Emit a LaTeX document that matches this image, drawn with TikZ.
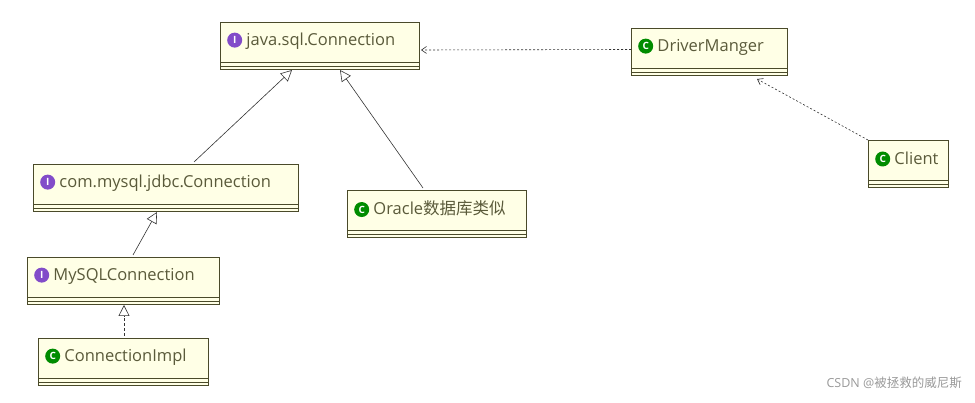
\documentclass[tikz,border=0pt]{standalone}
\usepackage{fontspec}
\setmainfont{Open Sans}
\newfontfamily\cjk{Noto Sans CJK SC}
\usetikzlibrary{calc,arrows.meta}
\definecolor{boxfill}{HTML}{FFFFE6}
\definecolor{boxdraw}{HTML}{4A4A2A}
\definecolor{txt}{HTML}{5A5A3A}
\newcommand\icI{\tikz[baseline=-0.6ex]\node[circle,fill=violet!60!blue!70,inner sep=0pt,minimum size=15pt,text=white,font=\fontsize{10}{10}\selectfont\bfseries]{I};}
\newcommand\icC{\tikz[baseline=-0.6ex]\node[circle,fill=green!55!black,inner sep=0pt,minimum size=15pt,text=white,font=\fontsize{10}{10}\selectfont\bfseries]{C};}
\tikzset{
  cls/.style={draw=boxdraw,fill=boxfill,line width=1pt,anchor=north west,minimum height=47pt,inner sep=0pt},
  nm/.style={anchor=west,xshift=7pt,yshift=-19pt,text=txt,font=\fontsize{16.5}{18}\selectfont,inner sep=0pt},
  gen/.style={-{Triangle[open,length=11pt,width=11pt]},line width=0.6pt,draw=black!80},
  dep/.style={-{Straight Barb[length=5pt,width=7pt]},dashed,dash pattern=on 2pt off 2pt,line width=0.6pt,draw=black!80}
}
\newcommand\comp[1]{\draw[boxdraw,line width=0.8pt] ($(#1.south west)+(0,-8)$)--($(#1.south east)+(0,-8)$) ($(#1.south west)+(0,-4)$)--($(#1.south east)+(0,-4)$);}
\begin{document}
\begin{tikzpicture}[x=1pt,y=-1pt]
\useasboundingbox (0,0) rectangle (975,403);
\node[cls,minimum width=199pt,label={[nm]north west:\icI\ java.sql.Connection}] (jc) at (220,22) {};
\node[cls,minimum width=156pt,label={[nm]north west:\icC\ DriverManger}] (dm) at (631,28) {};
\node[cls,minimum width=80pt,label={[nm]north west:\icC\ Client}] (cl) at (868,140) {};
\node[cls,minimum width=265pt,label={[nm]north west:\icI\ com.mysql.jdbc.Connection}] (mj) at (33,164) {};
\node[cls,minimum width=179pt,label={[nm]north west:\icC\ Oracle{\cjk 数据库类似}}] (or) at (347,190) {};
\node[cls,minimum width=192pt,label={[nm]north west:\icI\ MySQLConnection}] (ms) at (27,257) {};
\node[cls,minimum width=170pt,label={[nm]north west:\icC\ ConnectionImpl}] (ci) at (38,338) {};
\foreach \n in {jc,dm,cl,mj,or,ms,ci}{\comp{\n}}
\draw[gen] (mj.north) ++(28,-2) coordinate (a1) -- ($(jc.south west)+(72,0)$);
\draw[gen] (or.north) ++(-14,-2) -- ($(jc.south west)+(120,0)$);
\draw[gen] ($(ms.north west)+(106,-2)$) -- ($(mj.south west)+(124,0)$);
\draw[gen,dashed,dash pattern=on 3pt off 2pt] ($(ci.north west)+(86,-2)$) -- ($(ms.south west)+(97,0)$);
\draw[dep] ($(dm.west)+(0,-2.5)$) -- ($(jc.east)+(1,4)$);
\draw[dep] (cl.north west) -- ($(dm.south west)+(126,3)$);
\node[anchor=east,text=gray!80,font=\fontsize{12.5}{13}\selectfont,inner sep=0pt] (wm) at (962,383) {CSDN @{\cjk 被拯救的威尼斯}};
\end{tikzpicture}
\end{document}
